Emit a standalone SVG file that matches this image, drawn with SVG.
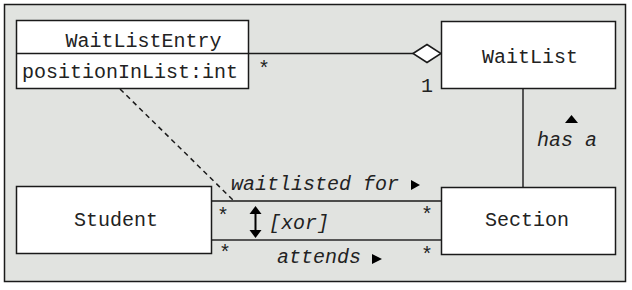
<svg xmlns="http://www.w3.org/2000/svg" width="632" height="290" viewBox="0 0 632 290">
<style>
.box{fill:#ffffff;stroke:#1a1a1a;stroke-width:1.5}
.t{font-family:"Liberation Mono","DejaVu Sans Mono",monospace;font-size:20px;fill:#222222}
.c{text-anchor:middle}
.i{font-style:italic}
.ln{stroke:#1a1a1a;stroke-width:1.5;fill:none}
.gl{stroke:#555555;stroke-width:2;fill:none}
.tri{fill:#000000}
</style>
<rect x="0" y="0" width="632" height="290" fill="#ffffff"/>
<rect x="4.5" y="4.5" width="621" height="277" fill="#e1e3e0" stroke="#1a1a1a" stroke-width="1.5"/>
<g id="connectors">
  <line class="ln" x1="249" y1="53.5" x2="413" y2="53.5"/>
  <polygon points="413,53.5 427,44.5 441,53.5 427,62.5" fill="#ffffff" stroke="#1a1a1a" stroke-width="1.5"/>
  <line class="gl" x1="523" y1="89" x2="523" y2="187"/>
  <line class="ln" x1="212" y1="201" x2="441" y2="201"/>
  <line class="gl" x1="212" y1="240" x2="441" y2="240"/>
  <line x1="120" y1="89" x2="233" y2="200" stroke="#1a1a1a" stroke-width="1.5" stroke-dasharray="5,4"/>
  <line x1="255.5" y1="212" x2="255.5" y2="232" stroke="#000" stroke-width="2"/>
  <polygon class="tri" points="255.5,206 261.5,214 249.5,214"/>
  <polygon class="tri" points="255.5,238 261.5,230 249.5,230"/>
  <text class="t c" x="264" y="75">*</text>
  <text class="t c" x="427" y="92">1</text>
  <text class="t i" x="537" y="146">has a</text>
  <polygon class="tri" points="571.5,115 578,123 565,123"/>
  <text class="t i" x="231" y="190">waitlisted for</text>
  <polygon class="tri" points="411,180 420,185 411,190"/>
  <text class="t i" x="269" y="229">[xor]</text>
  <text class="t i" x="277" y="263">attends</text>
  <polygon class="tri" points="372,254 382,259 372,264"/>
  <text class="t c" x="223" y="222">*</text>
  <text class="t c" x="225" y="259">*</text>
  <text class="t c" x="427" y="221">*</text>
  <text class="t c" x="427" y="261">*</text>
</g>
<g id="WaitListEntry">
  <rect class="box" x="16.5" y="20.5" width="232" height="68"/>
  <line class="ln" x1="16.5" y1="53.5" x2="248.5" y2="53.5"/>
  <text class="t c" x="143.5" y="47">WaitListEntry</text>
  <text class="t" x="22" y="78">positionInList:int</text>
</g>
<g id="WaitList">
  <rect class="box" x="441.5" y="21.5" width="174" height="67"/>
  <text class="t c" x="530" y="63">WaitList</text>
</g>
<g id="Student">
  <rect class="box" x="16.5" y="186.5" width="195" height="67"/>
  <text class="t c" x="116" y="226">Student</text>
</g>
<g id="Section">
  <rect class="box" x="441.5" y="187.5" width="174" height="67"/>
  <text class="t c" x="527" y="226">Section</text>
</g>
</svg>
